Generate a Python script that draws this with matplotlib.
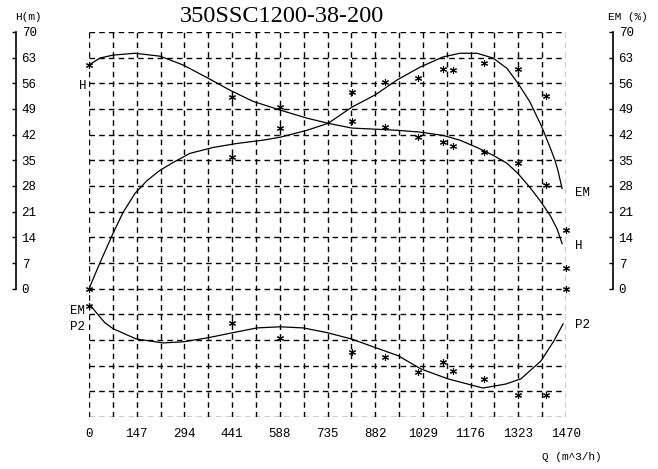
import matplotlib
matplotlib.use('Agg')
import matplotlib.pyplot as plt

# measured points (stars)
q_pts = [0, 441, 589, 810, 912, 1014, 1091, 1122, 1217, 1322, 1408]
h_pts = [61.0, 52.2, 49.6, 45.7, 44.0, 41.3, 40.0, 39.0, 37.2, 34.2, 28.2]
em_pts = [0.0, 35.8, 43.7, 53.6, 56.4, 57.4, 60.0, 59.6, 61.5, 60.0, 52.5]
p2_pts = [-4.6, -9.3, -13.4, -17.2, -18.6, -22.7, -20.0, -22.4, -24.6, -29.0, -29.0]
# extra stars at the last flow point
q_end = [1470, 1470, 1470]
v_end = [16.1, 5.5, 0.0]

# fitted curves
q_h = [0, 34, 74, 142, 219, 290, 367, 435, 505, 589, 672, 737, 810, 881, 949,
       1020, 1091, 1143, 1196, 1245, 1288, 1322, 1359, 1390, 1421, 1442, 1458]
h_curve = [61.0, 62.9, 63.7, 64.2, 63.4, 61.0, 57.4, 54.1, 51.1, 48.7, 46.5, 45.1,
           43.8, 43.5, 43.2, 42.7, 41.8, 40.5, 38.5, 36.4, 34.2, 31.4, 27.6, 24.0,
           20.0, 16.4, 12.3]

q_em = [0, 34, 71, 105, 142, 179, 219, 259, 311, 382, 456, 536, 589, 672, 737, 810,
        881, 949, 1020, 1091, 1143, 1196, 1245, 1288, 1322, 1359, 1396, 1421, 1436,
        1445, 1458]
em_curve = [0.0, 7.1, 14.5, 20.8, 26.0, 29.5, 32.3, 34.4, 36.9, 38.5, 39.6, 40.5,
            41.3, 43.2, 45.1, 49.5, 52.8, 56.9, 60.4, 63.2, 64.2, 64.2, 62.9, 60.1,
            56.0, 50.9, 44.0, 38.5, 35.0, 32.3, 27.3]

q_p2 = [0, 25, 49, 74, 145, 228, 290, 366, 444, 518, 589, 660, 734, 808, 953, 1023,
        1106, 1214, 1285, 1331, 1393, 1433, 1461]
p2_curve = [-4.1, -6.8, -9.3, -10.9, -13.7, -14.8, -14.5, -13.4, -12.0, -10.7, -10.4,
            -10.7, -12.0, -13.7, -18.3, -21.9, -24.6, -27.1, -26.0, -24.6, -19.7,
            -14.2, -9.6]

q_ticks = [0, 147, 294, 441, 588, 735, 882, 1029, 1176, 1323, 1470]
q_labels = ['0', '147', '294', '441', '588', '735', '882', '1029', '1176', '1323', '1470']
v_ticks = [0, 7, 14, 21, 28, 35, 42, 49, 56, 63, 70]

W, H = 658, 469
fig = plt.figure(figsize=(W / 100, H / 100), dpi=100)
mono = 'Liberation Mono'

bottom = 1 - 417 / H
top = 1 - 32 / H
ax = fig.add_axes([89 / W, bottom, (566 - 89) / W, top - bottom])
ax.set_xlim(0, 1470)
ax.set_ylim(-35, 70)
for s in ax.spines.values():
    s.set_visible(False)
ax.set_xticks([])
ax.set_yticks([])

# dashed grid
for i in range(21):
    ax.axvline(i * 73.5, color='black', lw=1, ls=(0, (4, 3)), zorder=1)
for i in range(16):
    ax.axhline(70 - i * 7, color='black', lw=1, ls=(0, (4, 3)), zorder=1)

ax.plot(q_h, h_curve, color='black', lw=0.9, zorder=3)
ax.plot(q_em, em_curve, color='black', lw=0.9, zorder=3)
ax.plot(q_p2, p2_curve, color='black', lw=0.9, zorder=3)

star = dict(marker=(6, 2, 0), ls='none', color='black', ms=5, mew=0.8, zorder=4, clip_on=False)
ax.plot(q_pts, h_pts, **star)
ax.plot(q_pts, em_pts, **star)
ax.plot(q_pts, p2_pts, **star)
ax.plot(q_end, v_end, **star)

# x tick labels
for q, lab in zip(q_ticks, q_labels):
    ax.text(q, -39.5, lab, ha='center', va='center', fontsize=9, family=mono,
            clip_on=False)

# curve labels
lab = dict(fontsize=9, family=mono, va='center', clip_on=False)
ax.text(-20, 55.4, 'H', ha='center', **lab)
ax.text(1510, 11.6, 'H', ha='center', **lab)
ax.text(1520, 26.2, 'EM', ha='center', **lab)
ax.text(-34, -6.0, 'EM', ha='center', **lab)
ax.text(-34, -10.4, 'P2', ha='center', **lab)
ax.text(1520, -9.8, 'P2', ha='center', **lab)

# side scales
for xr in (16, 613):
    axs = fig.add_axes([0, bottom, xr / W, top - bottom])
    axs.set_xlim(0, 1)
    axs.set_ylim(-35, 70)
    axs.patch.set_visible(False)
    for k in ('left', 'top', 'bottom'):
        axs.spines[k].set_visible(False)
    axs.spines['right'].set_bounds(0, 70)
    axs.spines['right'].set_linewidth(1.2)
    axs.set_xticks([])
    axs.yaxis.tick_right()
    axs.set_yticks(v_ticks)
    axs.set_yticklabels([str(v) for v in v_ticks], family=mono, fontsize=9)
    axs.tick_params(axis='y', direction='in', length=3, width=1, pad=4)

fig.text(28 / W, 1 - 17 / H, 'H(m)', ha='center', va='center', fontsize=8, family=mono)
fig.text(628 / W, 1 - 17 / H, 'EM (%)', ha='center', va='center', fontsize=8, family=mono)
fig.text(572 / W, 1 - 457 / H, 'Q (m^3/h)', ha='center', va='center', fontsize=8, family=mono)
fig.text(282 / W, 1 - 16 / H, '350SSC1200-38-200', ha='center', va='center',
         fontsize=17.5, family='Liberation Serif')

fig.savefig('out.png', dpi=100)
